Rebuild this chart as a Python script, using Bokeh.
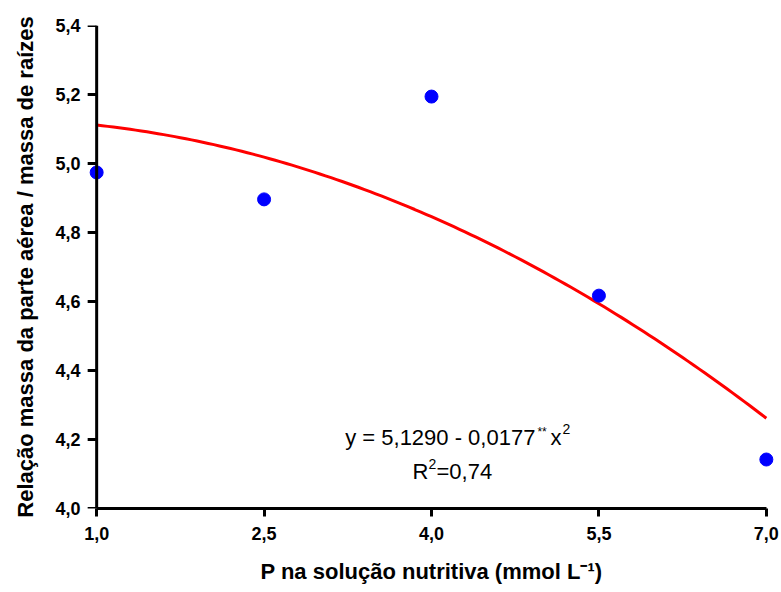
import numpy as np
from bokeh.plotting import figure
from bokeh.models import Range1d, FixedTicker, Label, Span
from bokeh.embed import file_html
from bokeh.resources import INLINE

# ---- data ----
p_levels = [1.0, 2.5, 4.0, 5.5, 7.0]
shoot_root_ratio = [4.974, 4.896, 5.194, 4.617, 4.142]

x_ticks = [1.0, 2.5, 4.0, 5.5, 7.0]
x_tick_labels = ["1,0", "2,5", "4,0", "5,5", "7,0"]
y_ticks = [4.0, 4.2, 4.4, 4.6, 4.8, 5.0, 5.2, 5.4]
y_tick_labels = ["4,0", "4,2", "4,4", "4,6", "4,8", "5,0", "5,2", "5,4"]

# fitted regression shown on the chart: y = 5,1290 - 0,0177 x^2
fit_intercept = 5.1290
fit_quad = -0.0177

x_label = "P na solução nutritiva (mmol L\u207b\u00b9)"
y_label = "Relação massa da parte aérea / massa de raízes"
eq_text = "y = 5,1290 - 0,0177"
eq_sig = "**"
eq_var = "x"
eq_exp = "2"
r2_base = "R"
r2_exp = "2"
r2_val = "=0,74"

# ---- figure ----
FONT = "Liberation Sans"
pad = 0.1
p = figure(width=781, height=592, output_backend="svg", toolbar_location=None,
           x_range=Range1d(p_levels[0] - pad, p_levels[-1] + pad),
           y_range=Range1d(y_ticks[0], y_ticks[-1]),
           min_border_left=85, min_border_right=4, min_border_top=25,
           min_border_bottom=84)
p.outline_line_color = None
p.xgrid.visible = False
p.ygrid.visible = False
p.background_fill_color = "white"
p.border_fill_color = "white"

AX_W = 3

# y axis line at x = 1,0 and its outward ticks
p.add_layout(Span(location=p_levels[0], dimension="height",
                  line_color="black", line_width=AX_W))
p.ray(x=[p_levels[0]] * len(y_ticks), y=y_ticks, length=9,
      length_units="screen", angle=np.pi, line_color="black",
      line_width=AX_W)

curve_x = np.linspace(p_levels[0], p_levels[-1], 121)
curve_y = fit_intercept + fit_quad * curve_x ** 2
p.line(curve_x, curve_y, line_color="#FF0000", line_width=3)
p.scatter(p_levels, shoot_root_ratio, size=13, fill_color="#0000FF",
          line_color="#0000FF")

for ax in (p.xaxis[0], p.yaxis[0]):
    ax.axis_line_width = AX_W
    ax.axis_line_color = "black"
    ax.major_tick_line_width = AX_W
    ax.major_tick_line_color = "black"
    ax.major_tick_out = 8
    ax.major_tick_in = 0
    ax.minor_tick_line_color = None
    ax.major_label_text_font = FONT
    ax.major_label_text_font_style = "bold"
    ax.major_label_text_font_size = "18px"
    ax.major_label_text_color = "black"
    ax.axis_label_text_font = FONT
    ax.axis_label_text_font_style = "bold"
    ax.axis_label_text_font_size = "22px"
    ax.axis_label_text_color = "black"

p.xaxis.ticker = FixedTicker(ticks=x_ticks)
p.xaxis.major_label_overrides = dict(zip(x_ticks, x_tick_labels))
p.xaxis.bounds = (p_levels[0], p_levels[-1])
p.xaxis.axis_label = x_label
p.xaxis.major_label_standoff = 10
p.xaxis.axis_label_standoff = 16

# left axis supplies only the tick labels and title (line/ticks drawn at x=1,0)
p.yaxis.ticker = FixedTicker(ticks=y_ticks)
p.yaxis.major_label_overrides = dict(zip(y_ticks, y_tick_labels))
p.yaxis.axis_line_color = None
p.yaxis.major_tick_line_color = None
p.yaxis.major_tick_out = 0
p.yaxis.axis_label = y_label
p.yaxis.major_label_standoff = 5
p.yaxis.axis_label_standoff = 14


def lab(x, y, text, size, align="left"):
    p.add_layout(Label(x=x, y=y, text=text, text_font=FONT,
                       text_font_size=size, text_color="black",
                       text_align=align, text_baseline="alphabetic"))


# equation (data-space anchors)
lab(4.931, 4.2058, eq_text, "22px", "right")
lab(4.949, 4.2203, eq_sig, "12px")
lab(5.066, 4.2058, eq_var, "22px")
lab(5.173, 4.2290, eq_exp, "14px")
lab(3.973, 4.1072, r2_base, "22px", "right")
lab(3.973, 4.1304, r2_exp, "14px")
lab(4.045, 4.1072, r2_val, "22px")

open("out.html", "w").write(file_html(p, INLINE))
